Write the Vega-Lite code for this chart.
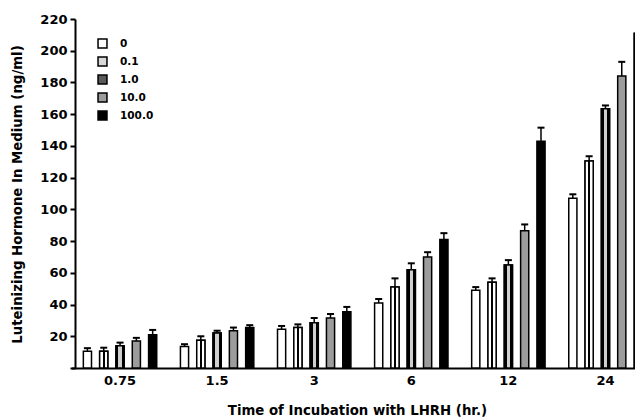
{
  "$schema": "https://vega.github.io/schema/vega-lite/v6.json",
  "autosize": "none",
  "padding": {"left": 75, "top": 19, "right": 0, "bottom": 52},
  "width": 560,
  "height": 349,
  "background": "white",
  "config": {
    "view": {"stroke": null},
    "font": "DejaVu Sans",
    "axis": {
      "labelFont": "DejaVu Sans", "labelFontWeight": "bold", "labelFontSize": 13, "labelColor": "black",
      "titleFont": "DejaVu Sans", "titleFontWeight": "bold", "titleFontSize": 13.3, "titleColor": "black", "grid": false
    },
    "legend": {
      "labelFont": "DejaVu Sans", "labelFontWeight": "bold", "labelFontSize": 10.5, "labelColor": "black"
    }
  },
  "data": {"values": [
    {"time": "0.75", "dose": "0", "lh": 10.5, "hi": 12.5},
    {"time": "0.75", "dose": "0.1", "lh": 10.5, "hi": 12.8},
    {"time": "0.75", "dose": "1.0", "lh": 14, "hi": 16},
    {"time": "0.75", "dose": "10.0", "lh": 17, "hi": 19},
    {"time": "0.75", "dose": "100.0", "lh": 21, "hi": 24},
    {"time": "1.5", "dose": "0", "lh": 13.5, "hi": 15},
    {"time": "1.5", "dose": "0.1", "lh": 17.5, "hi": 20},
    {"time": "1.5", "dose": "1.0", "lh": 22, "hi": 23.5},
    {"time": "1.5", "dose": "10.0", "lh": 23.5, "hi": 25.5},
    {"time": "1.5", "dose": "100.0", "lh": 25.5, "hi": 27},
    {"time": "3", "dose": "0", "lh": 24.5, "hi": 26.5},
    {"time": "3", "dose": "0.1", "lh": 25.5, "hi": 27.5},
    {"time": "3", "dose": "1.0", "lh": 28.5, "hi": 31.5},
    {"time": "3", "dose": "10.0", "lh": 31.5, "hi": 34},
    {"time": "3", "dose": "100.0", "lh": 35.5, "hi": 38.5},
    {"time": "6", "dose": "0", "lh": 41, "hi": 43.5},
    {"time": "6", "dose": "0.1", "lh": 51, "hi": 56.5},
    {"time": "6", "dose": "1.0", "lh": 62, "hi": 66},
    {"time": "6", "dose": "10.0", "lh": 70, "hi": 73},
    {"time": "6", "dose": "100.0", "lh": 81, "hi": 85},
    {"time": "12", "dose": "0", "lh": 49, "hi": 51},
    {"time": "12", "dose": "0.1", "lh": 54, "hi": 56.5},
    {"time": "12", "dose": "1.0", "lh": 65, "hi": 68},
    {"time": "12", "dose": "10.0", "lh": 86.5, "hi": 90.5},
    {"time": "12", "dose": "100.0", "lh": 143, "hi": 151.5},
    {"time": "24", "dose": "0", "lh": 107, "hi": 109.5},
    {"time": "24", "dose": "0.1", "lh": 130.5, "hi": 133.5},
    {"time": "24", "dose": "1.0", "lh": 163.5, "hi": 165.5},
    {"time": "24", "dose": "10.0", "lh": 184, "hi": 193},
    {"time": "24", "dose": "100.0", "lh": 211, "hi": 211}
  ]},
  "encoding": {
    "x": {"field": "time", "type": "nominal", "sort": ["0.75", "1.5", "3", "6", "12", "24"],
          "scale": {"range": [-3.5, 579], "paddingInner": 0.16, "paddingOuter": 0.08},
          "axis": {"labelAngle": 0, "ticks": false, "domain": true, "domainColor": "black", "domainWidth": 2, "labelPadding": 6,
                   "title": "Time of Incubation with LHRH (hr.)", "titleX": 282, "titleY": 42, "titleBaseline": "middle", "titleAlign": "center"}},
    "xOffset": {"field": "dose", "type": "nominal", "sort": ["0", "0.1", "1.0", "10.0", "100.0"],
                "scale": {"paddingInner": 0.5, "paddingOuter": 0.25}},
    "y": {"field": "lh", "type": "quantitative", "scale": {"domain": [0, 220], "nice": false},
          "axis": {"tickCount": 11, "domain": true, "ticks": true, "domainColor": "black", "domainWidth": 2, "tickColor": "black", "tickWidth": 2,
                   "labelOverlap": false, "tickSize": 5, "labelPadding": 3,
                   "labelExpr": "datum.value == 0 ? '' : datum.label",
                   "title": "Luteinizing Hormone In Medium (ng/ml)", "titleX": -58, "titleY": 175,
                   "titleAngle": -90, "titleAlign": "center", "titleBaseline": "middle"}}
  },
  "layer": [
    {
      "mark": {"type": "bar", "stroke": "black", "strokeWidth": 1.5, "clip": true},
      "encoding": {
        "fill": {"field": "dose", "type": "nominal", "sort": ["0", "0.1", "1.0", "10.0", "100.0"],
                 "scale": {"domain": ["0", "0.1", "1.0", "10.0", "100.0"], "range": ["#ffffff", "#d8d8d8", "#5a5a5a", "#9c9c9c", "#000000"]},
                 "legend": {"title": null, "orient": "none", "legendX": 22, "legendY": 19, "symbolType": "square",
                            "symbolSize": 80, "symbolStrokeColor": "black", "symbolStrokeWidth": 1.5, "rowPadding": 3, "labelOffset": 12}}
      }
    },
    {
      "transform": [{"filter": "datum.dose === '0.1'"}],
      "mark": {"type": "bar", "stroke": "black", "strokeWidth": 1.5, "clip": true,
               "fill": {"gradient": "linear", "x1": 0, "y1": 0, "x2": 1, "y2": 0,
                        "stops": [{"offset": 0, "color": "white"}, {"offset": 0.38, "color": "white"}, {"offset": 0.38, "color": "black"},
                                  {"offset": 0.62, "color": "black"}, {"offset": 0.62, "color": "white"}, {"offset": 1, "color": "white"}]}}
    },
    {
      "transform": [{"filter": "datum.dose === '1.0'"}],
      "mark": {"type": "bar", "stroke": "black", "strokeWidth": 1.5, "clip": true,
               "fill": {"gradient": "linear", "x1": 0, "y1": 0, "x2": 1, "y2": 0,
                        "stops": [{"offset": 0, "color": "black"}, {"offset": 0.3, "color": "black"}, {"offset": 0.3, "color": "#cfcfcf"},
                                  {"offset": 0.7, "color": "#cfcfcf"}, {"offset": 0.7, "color": "black"}, {"offset": 1, "color": "black"}]}}
    },
    {
      "mark": {"type": "rule", "stroke": "black", "strokeWidth": 1.5, "clip": true},
      "encoding": {"y2": {"field": "hi"}}
    },
    {
      "mark": {"type": "tick", "color": "black", "size": 7, "thickness": 2, "clip": true, "opacity": 1},
      "encoding": {"y": {"field": "hi", "type": "quantitative"}}
    }
  ]
}
